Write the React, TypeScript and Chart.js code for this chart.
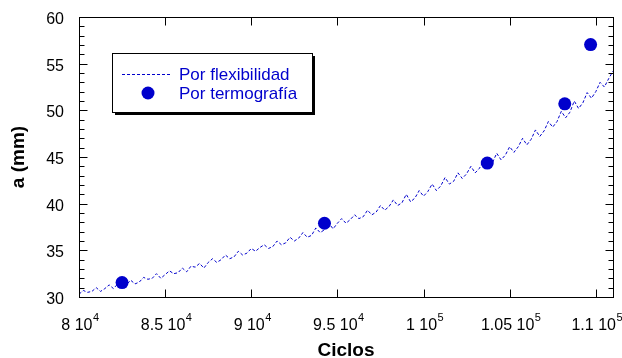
import React, { useEffect, useRef } from "react";
import { Chart, registerables } from "chart.js";
Chart.register(...registerables);

// "Por flexibilidad": crack length a (mm), sampled every 250 cycles from 80000
const flexStartCycle = 80000;
const flexStepCycle = 250;
const flexA = [
  30.3, 30.7, 30.5, 30.6, 31.0, 30.6, 30.9, 31.3, 30.9, 31.4, 31.2,
  31.3, 31.8, 31.4, 31.6, 32.1, 31.9, 32.0, 32.5, 32.0, 32.4,
  32.8, 32.5, 32.6, 33.1, 32.7, 33.3, 33.2, 33.6, 33.1, 33.7,
  34.1, 33.7, 34.0, 34.5, 34.1, 34.3, 34.9, 34.5, 34.7, 35.2,
  34.9, 35.3, 35.6, 35.2, 35.4, 36.0, 35.6, 35.8, 36.4, 36.0,
  36.3, 36.9, 36.4, 36.6, 37.4, 36.9, 37.2, 37.9, 37.3, 37.9,
  38.4, 37.9, 38.3, 38.8, 38.4, 38.6, 39.3, 38.8, 39.1, 39.8,
  39.3, 39.7, 40.4, 39.8, 40.1, 41.0, 40.2, 40.6, 41.4, 40.8,
  41.3, 42.1, 41.4, 41.9, 42.8, 42.1, 42.4, 43.3, 42.7, 43.2,
  44.0, 43.3, 43.8, 44.7, 44.0, 44.4, 45.4, 44.7, 45.2, 46.1,
  45.5, 46.1, 47.0, 46.3, 46.9, 47.9, 47.2, 47.8, 48.8, 48.2,
  48.8, 49.9, 49.2, 49.8, 51.0, 50.2, 50.8, 51.9, 51.3, 52.0,
  53.0, 52.5, 53.4, 54.2,
];

// "Por termografía"
const thermoCycles = [82500, 94250, 103700, 108200, 109700];
const thermoA = [31.55, 37.9, 44.35, 50.7, 57.05];

const xTicks = [80000, 85000, 90000, 95000, 100000, 105000, 110000];
const xTickMantissa = ["8", "8.5", "9", "9.5", "1", "1.05", "1.1"];
const xTickExponent = ["4", "4", "4", "4", "5", "5", "5"];
const yTicks = [30, 35, 40, 45, 50, 55, 60];
const yTickLabels = ["30", "35", "40", "45", "50", "55", "60"];

const X_MIN = 80000;
const X_MAX = 111000;
const Y_MIN = 30;
const Y_MAX = 60;

const BLUE = "#0000cc";
const FONT = "'Liberation Sans', Arial, sans-serif";
const LEGEND_LABELS = ["Por flexibilidad", "Por termografía"];
const X_TITLE = "Ciclos";
const Y_TITLE = "a (mm)";

const framePlugin = {
  id: "framePlugin",
  afterDraw(chart: any) {
    const { ctx, chartArea: a, scales } = chart;
    const xs = scales.x;
    const ys = scales.y;
    ctx.save();
    ctx.strokeStyle = "#000";
    ctx.lineWidth = 1;
    const L = Math.round(a.left) + 0.5;
    const R = Math.round(a.right) + 0.5;
    const T = Math.round(a.top) + 0.5;
    const B = Math.round(a.bottom) + 0.5;
    ctx.strokeRect(L, T, R - L, B - T);

    ctx.beginPath();
    xTicks.forEach((v) => {
      const px = Math.round(xs.getPixelForValue(v)) + 0.5;
      ctx.moveTo(px, B);
      ctx.lineTo(px, B - 8);
      ctx.moveTo(px, T);
      ctx.lineTo(px, T + 8);
    });
    for (let v = Y_MIN; v <= Y_MAX; v += 1) {
      const len = v % 5 === 0 ? 8 : 5;
      const py = Math.round(ys.getPixelForValue(v)) + 0.5;
      ctx.moveTo(L, py);
      ctx.lineTo(L + len, py);
      ctx.moveTo(R, py);
      ctx.lineTo(R - len, py);
    }
    ctx.stroke();

    // y tick labels
    ctx.fillStyle = "#000";
    ctx.font = `16px ${FONT}`;
    ctx.textAlign = "right";
    ctx.textBaseline = "alphabetic";
    yTicks.forEach((v, i) => {
      const py = ys.getPixelForValue(v);
      ctx.fillText(yTickLabels[i], 64, py + 7);
    });

    // x tick labels with superscript exponent
    ctx.textAlign = "left";
    xTicks.forEach((v, i) => {
      const px = xs.getPixelForValue(v);
      const main = xTickMantissa[i] + " 10";
      ctx.font = `16px ${FONT}`;
      const w1 = ctx.measureText(main).width;
      ctx.font = `11px ${FONT}`;
      const w2 = ctx.measureText(xTickExponent[i]).width;
      const x0 = px - (w1 + w2) / 2 + 1;
      ctx.font = `16px ${FONT}`;
      ctx.fillText(main, x0, 330);
      ctx.font = `11px ${FONT}`;
      ctx.fillText(xTickExponent[i], x0 + w1 + 0.5, 321);
    });

    // axis titles
    ctx.font = `bold 19px ${FONT}`;
    ctx.textAlign = "center";
    ctx.textBaseline = "alphabetic";
    ctx.fillText(X_TITLE, (a.left + a.right) / 2, 356);
    ctx.save();
    ctx.translate(24, (a.top + a.bottom) / 2);
    ctx.rotate(-Math.PI / 2);
    ctx.fillText(Y_TITLE, 0, 0);
    ctx.restore();

    // legend box
    const bx = 112, by = 53, bw = 200, bh = 59;
    ctx.fillStyle = "#000";
    ctx.fillRect(bx + 3, by + 3, bw, bh);
    ctx.fillStyle = "#fff";
    ctx.fillRect(bx, by, bw, bh);
    ctx.strokeStyle = "#000";
    ctx.lineWidth = 1;
    ctx.strokeRect(bx + 0.5, by + 0.5, bw, bh);

    ctx.strokeStyle = BLUE;
    ctx.setLineDash([3, 2]);
    ctx.beginPath();
    ctx.moveTo(122, 74.5);
    ctx.lineTo(172, 74.5);
    ctx.stroke();
    ctx.setLineDash([]);

    ctx.fillStyle = BLUE;
    ctx.beginPath();
    ctx.arc(148, 93, 6.5, 0, Math.PI * 2);
    ctx.fill();

    ctx.font = `17px ${FONT}`;
    ctx.textAlign = "left";
    ctx.textBaseline = "alphabetic";
    ctx.fillText(LEGEND_LABELS[0], 179, 80);
    ctx.fillText(LEGEND_LABELS[1], 179, 99);
    ctx.restore();
  },
};

export default function App() {
  const ref = useRef<HTMLCanvasElement | null>(null);
  useEffect(() => {
    document.body.style.margin = "0";
    const canvas = ref.current!;
    const flexPoints = flexA.map((v, i) => ({ x: flexStartCycle + i * flexStepCycle, y: v }));
    const thermoPoints = thermoCycles.map((c, i) => ({ x: c, y: thermoA[i] }));
    const chart = new Chart(canvas, {
      type: "line",
      data: {
        datasets: [
          {
            type: "scatter",
            label: LEGEND_LABELS[1],
            data: thermoPoints,
            backgroundColor: BLUE,
            borderColor: BLUE,
            pointRadius: 6.5,
            pointBorderWidth: 0,
            showLine: false,
          } as any,
          {
            type: "line",
            label: LEGEND_LABELS[0],
            data: flexPoints,
            borderColor: BLUE,
            borderWidth: 1,
            borderDash: [3, 2],
            pointRadius: 0,
            tension: 0,
            fill: false,
          },
        ],
      },
      options: {
        responsive: false,
        animation: false,
        devicePixelRatio: 1,
        layout: { padding: { left: 79, right: 9, top: 17, bottom: 61 } },
        plugins: { legend: { display: false }, tooltip: { enabled: false } },
        scales: {
          x: { type: "linear", min: X_MIN, max: X_MAX, display: false },
          y: { type: "linear", min: Y_MIN, max: Y_MAX, display: false },
        },
      },
      plugins: [framePlugin],
    });
    return () => chart.destroy();
  }, []);
  return (
    <canvas
      ref={ref}
      width={622}
      height={358}
      style={{ display: "block", width: 622, height: 358 }}
    />
  );
}
